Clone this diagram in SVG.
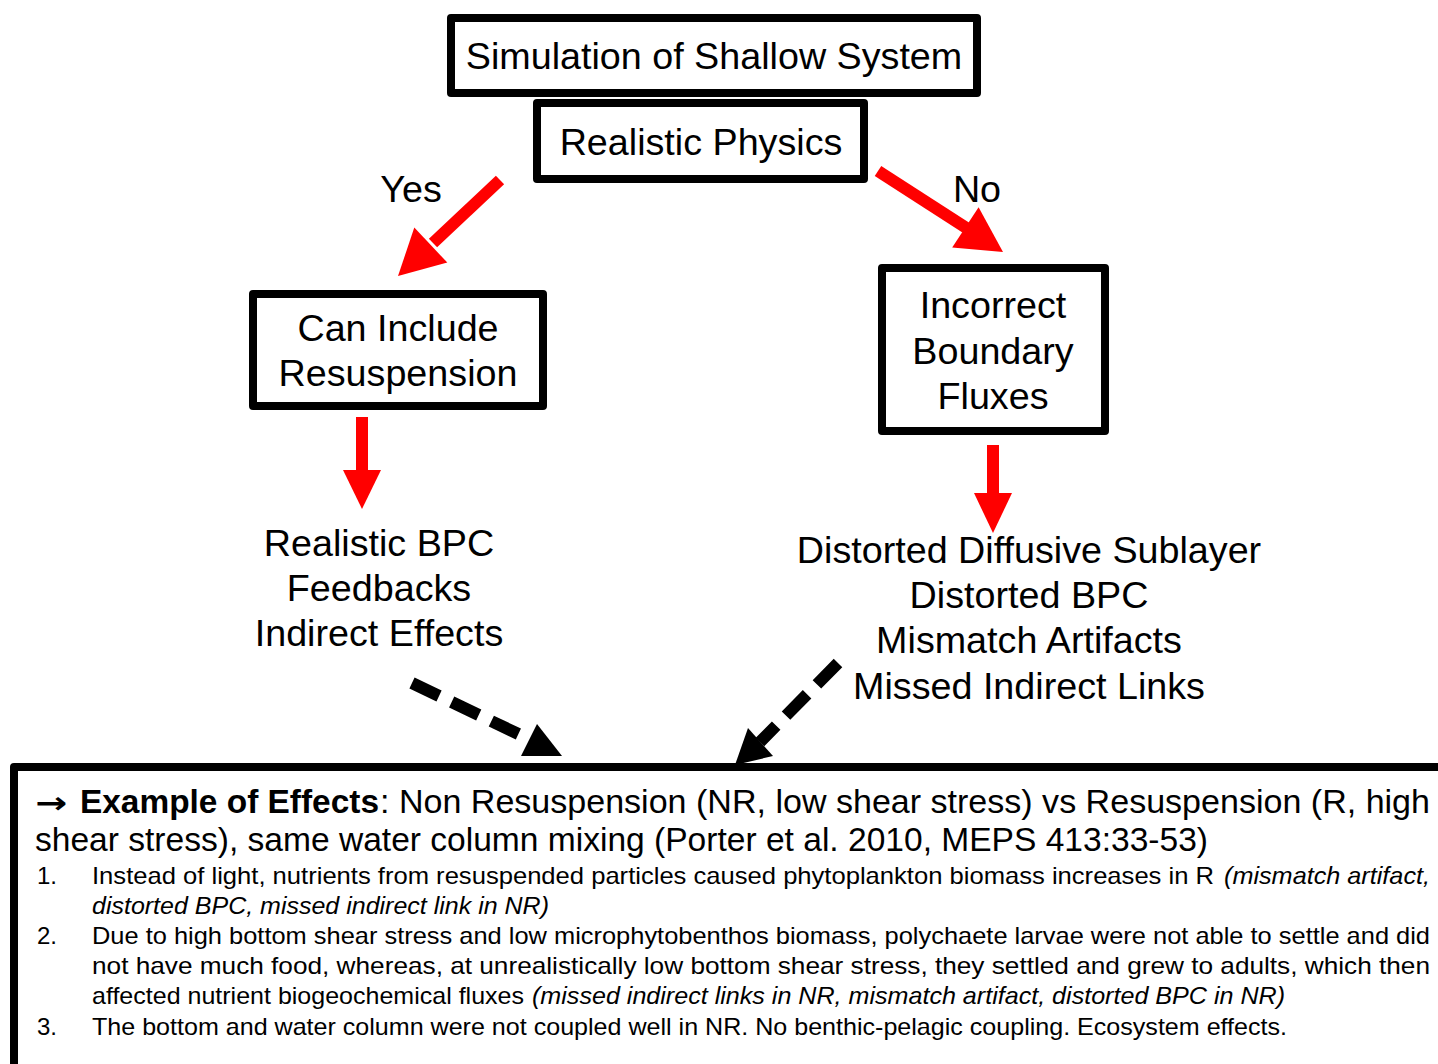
<svg xmlns="http://www.w3.org/2000/svg" width="1438" height="1064" viewBox="0 0 1438 1064">
<style>
.box{fill:#fff;stroke:#000;stroke-width:8;stroke-linejoin:round}
.lbl{font-family:"Liberation Sans",Arial,sans-serif;font-size:37.7px;fill:#000;text-anchor:middle}
.red{stroke:#ff0000;stroke-width:12;fill:none}
.rh{fill:#ff0000}
.dash{stroke:#000;stroke-width:12;fill:none;stroke-dasharray:30,14}
.nar{font-family:"Liberation Sans Narrow","Liberation Sans",Arial,sans-serif;fill:#000}
.h{font-size:33px}
.s{font-size:24px}
.b{font-weight:bold}
.i{font-style:italic}
</style>
<g id="connectors">
<line class="red" x1="500" y1="180" x2="433" y2="243"/>
<path class="rh" d="M398,276 L447.3,262.6 L414.3,227.6 Z"/>
<line class="red" x1="878" y1="171" x2="968" y2="229"/>
<path class="rh" d="M1003,252 L952.2,247.4 L978.6,207.2 Z"/>
<line class="red" x1="362" y1="417" x2="362" y2="472"/>
<path class="rh" d="M343,470 L381,470 L362,509 Z"/>
<line class="red" x1="993" y1="445" x2="993" y2="495"/>
<path class="rh" d="M974,493 L1012,493 L993,533 Z"/>
<path class="dash" d="M412,683 L535,742"/>
<path d="M537,724 L562,756 L521,756 Z" fill="#000"/>
<path class="dash" d="M838,663 L760,742"/>
<path d="M748,728 L735,765 L773,756 Z" fill="#000"/>
</g>
<g id="node-sim">
<rect class="box" x="451" y="18" width="526" height="75"/>
<text class="lbl" x="714" y="69">Simulation of Shallow System</text>
</g>
<g id="node-phys">
<rect class="box" x="537" y="103" width="327" height="76"/>
<text class="lbl" x="701" y="155">Realistic Physics</text>
</g>
<g id="label-yes"><text class="lbl" x="411" y="202">Yes</text></g>
<g id="label-no"><text class="lbl" x="977" y="202">No</text></g>
<g id="node-resusp">
<rect class="box" x="253" y="294" width="290" height="112"/>
<text class="lbl" x="398" y="341">Can Include</text>
<text class="lbl" x="398" y="386">Resuspension</text>
</g>
<g id="node-incorrect">
<rect class="box" x="882" y="268" width="223" height="163"/>
<text class="lbl" x="993" y="318">Incorrect</text>
<text class="lbl" x="993" y="364">Boundary</text>
<text class="lbl" x="993" y="409">Fluxes</text>
</g>
<g id="node-realistic">
<text class="lbl" x="379" y="556">Realistic BPC</text>
<text class="lbl" x="379" y="601">Feedbacks</text>
<text class="lbl" x="379" y="646">Indirect Effects</text>
</g>
<g id="node-distorted">
<text class="lbl" x="1029" y="563">Distorted Diffusive Sublayer</text>
<text class="lbl" x="1029" y="608">Distorted BPC</text>
<text class="lbl" x="1029" y="653">Mismatch Artifacts</text>
<text class="lbl" x="1029" y="699">Missed Indirect Links</text>
</g>
<g id="node-examples">
<rect class="box" x="14" y="767" width="1434" height="310"/>
<text class="b" x="35" y="813" font-family="DejaVu Sans,sans-serif" font-size="30px" textLength="32" lengthAdjust="spacingAndGlyphs">→</text>
<text class="nar h b" x="80" y="813" textLength="299" lengthAdjust="spacingAndGlyphs">Example of Effects</text>
<text class="nar h" x="380" y="813" textLength="1050" lengthAdjust="spacingAndGlyphs">: Non Resuspension (NR, low shear stress) vs Resuspension (R, high</text>
<text class="nar h" x="35" y="851" textLength="1173" lengthAdjust="spacingAndGlyphs">shear stress), same water column mixing (Porter et al. 2010, MEPS 413:33-53)</text>
<text class="nar s" x="37" y="884">1.</text>
<text class="nar s" x="92" y="884" textLength="1122" lengthAdjust="spacingAndGlyphs">Instead of light, nutrients from resuspended particles caused phytoplankton biomass increases in R</text>
<text class="nar s i" x="1224" y="884" textLength="206" lengthAdjust="spacingAndGlyphs">(mismatch artifact,</text>
<text class="nar s i" x="92" y="914" textLength="457" lengthAdjust="spacingAndGlyphs">distorted BPC, missed indirect link in NR)</text>
<text class="nar s" x="37" y="944">2.</text>
<text class="nar s" x="92" y="944" textLength="1338" lengthAdjust="spacingAndGlyphs">Due to high bottom shear stress and low microphytobenthos biomass, polychaete larvae were not able to settle and did</text>
<text class="nar s" x="92" y="974" textLength="1338" lengthAdjust="spacingAndGlyphs">not have much food, whereas, at unrealistically low bottom shear stress, they settled and grew to adults, which then</text>
<text class="nar s" x="92" y="1004" textLength="432" lengthAdjust="spacingAndGlyphs">affected nutrient biogeochemical fluxes</text>
<text class="nar s i" x="532" y="1004" textLength="753" lengthAdjust="spacingAndGlyphs">(missed indirect links in NR, mismatch artifact, distorted BPC in NR)</text>
<text class="nar s" x="37" y="1035">3.</text>
<text class="nar s" x="92" y="1035" textLength="1195" lengthAdjust="spacingAndGlyphs">The bottom and water column were not coupled well in NR. No benthic-pelagic coupling. Ecosystem effects.</text>
</g>
</svg>
